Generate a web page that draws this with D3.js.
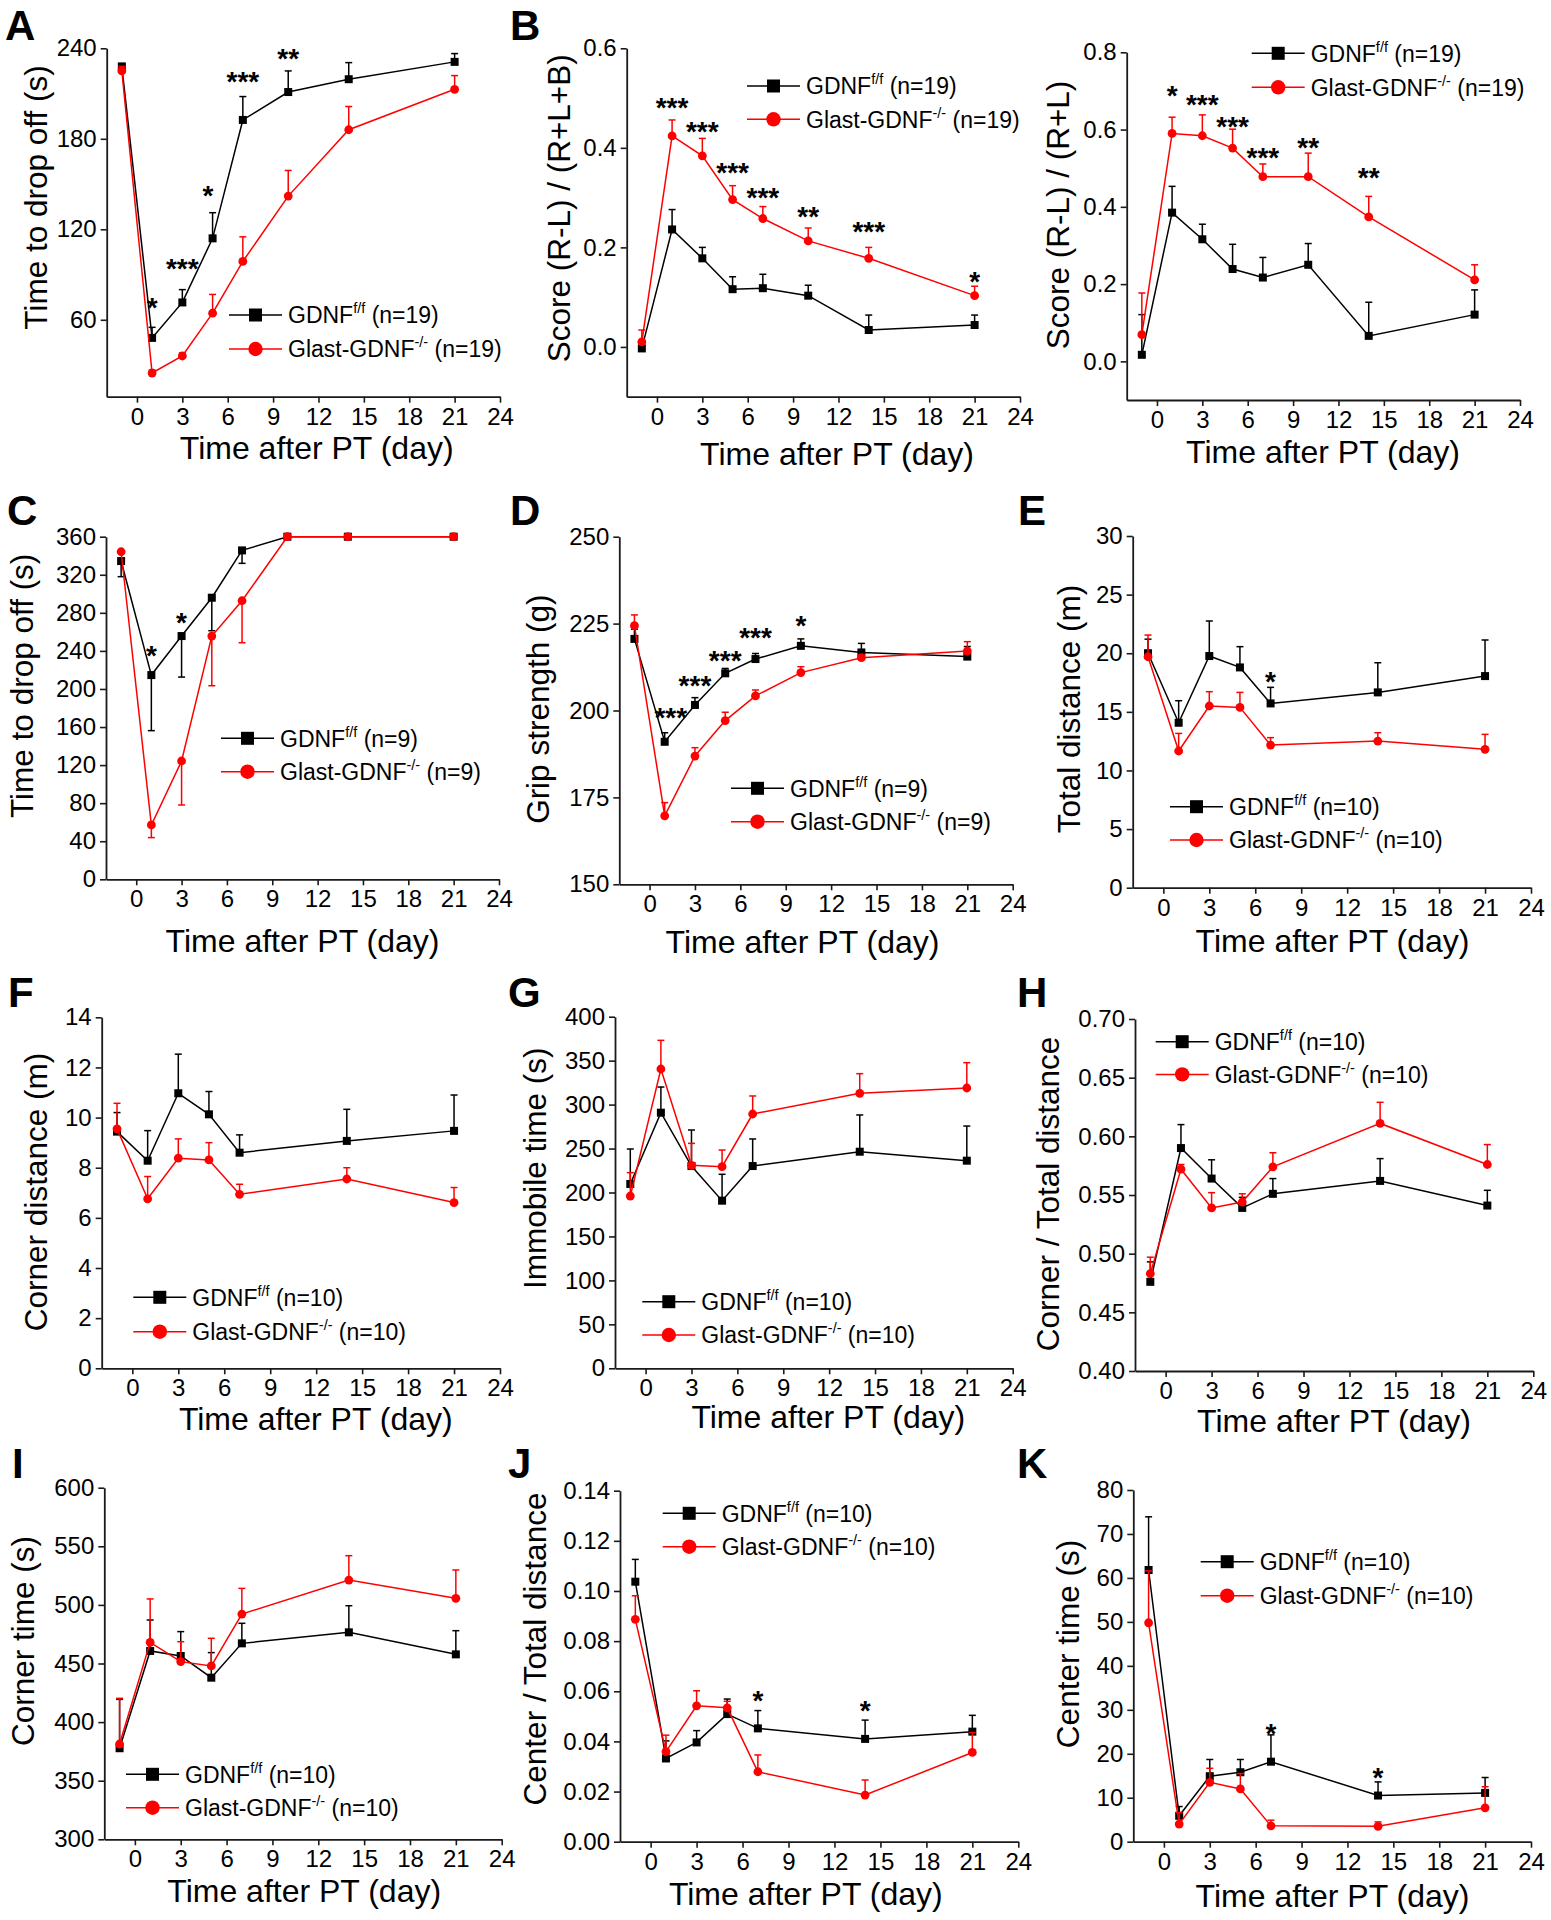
<!DOCTYPE html>
<html><head><meta charset="utf-8">
<script src="https://cdn.jsdelivr.net/npm/d3@7"></script>
<style>
body{margin:0;background:#fff}
svg{display:block}
text{font-family:"Liberation Sans",Arial,Helvetica,sans-serif;fill:#000}
</style>
</head><body>
<svg id="fig" width="1551" height="1920"></svg>
<script>
// ---------- shared ----------
const xTicks = [0,3,6,9,12,15,18,21,24];
const daysLong = [-1,1,3,5,7,10,14,21];
const daysShort = [-1,1,3,5,7,14,21];
const ctrlName = "GDNF";
const ctrlSup = "f/f";
const koName = "Glast-GDNF";
const koSup = "-/-";
const xTitle = "Time after PT (day)";

// ---------- A: time to drop off (n=19) ----------
const aCtrl = [228, 48, 71.5, 114, 192.5, 211, 219.5, 231];
const aCtrlErr = [1.5, 7, 8.5, 17, 15.5, 14, 11, 5.5];
const aKO = [225, 24.7, 36, 64.4, 98.7, 142, 186, 212.8];
const aKOErr = [3, 2, 2, 12.4, 16.3, 17, 15.4, 9.1];
const aStars = [[1,"*",73],[3,"***",99],[4.7,"*",147],[7,"***",223],[10,"**",238]];
const aYTicks = [60,120,180,240];

// ---------- B left: score (R-L)/(R+L+B) ----------
const b1Ctrl = [-0.003, 0.236, 0.178, 0.116, 0.118, 0.103, 0.034, 0.044];
const b1CtrlErr = [0.005, 0.04, 0.022, 0.025, 0.028, 0.021, 0.03, 0.02];
const b1KO = [0.01, 0.424, 0.384, 0.296, 0.258, 0.213, 0.178, 0.103];
const b1KOErr = [0.024, 0.032, 0.035, 0.028, 0.024, 0.026, 0.022, 0.019];
const b1Stars = [[1,"***",0.496],[3,"***",0.448],[5,"***",0.365],[7,"***",0.314],[10,"**",0.276],[14,"***",0.247],[21,"*",0.146]];
const b1YTicks = [0,0.2,0.4,0.6];

// ---------- B right: score (R-L)/(R+L) ----------
const b2Ctrl = [0.017, 0.385, 0.316, 0.239, 0.217, 0.25, 0.066, 0.121];
const b2CtrlErr = [0.104, 0.068, 0.039, 0.064, 0.052, 0.055, 0.087, 0.064];
const b2KO = [0.069, 0.59, 0.584, 0.552, 0.478, 0.478, 0.374, 0.211];
const b2KOErr = [0.108, 0.042, 0.054, 0.049, 0.033, 0.061, 0.053, 0.039];
const b2Stars = [[1,"*",0.707],[3,"***",0.684],[5,"***",0.627],[7,"***",0.546],[10,"**",0.572],[14,"**",0.496]];
const b2YTicks = [0,0.2,0.4,0.6,0.8];

// ---------- C: time to drop off (n=9), error bars downward ----------
const cCtrl = [334.4, 214.6, 255.6, 295.9, 345.6, 360, 360, 360];
const cCtrlErr = [16.4, 58.4, 43.1, 34.7, 13.6, 0, 0, 0];
const cKO = [344.2, 57.1, 124.3, 255.6, 292.7, 360, 360, 360];
const cKOErr = [0, 13.3, 46.2, 52.2, 44.1, 0, 0, 0];
const cStars = [[1,"*",243],[3,"*",277]];
const cYTicks = [0,40,80,120,160,200,240,280,320,360];

// ---------- D: grip strength ----------
const dCtrl = [220.6, 191.0, 201.6, 210.7, 214.8, 218.6, 216.7, 215.5];
const dCtrlErr = [2.8, 2.6, 2.1, 1.4, 1.6, 2.0, 2.6, 2.9];
const dKO = [224.4, 169.7, 186.9, 197.1, 204.2, 210.9, 215.2, 217.1];
const dKOErr = [3.1, 3.8, 2.4, 2.4, 1.7, 1.7, 0.8, 2.7];
const dStars = [[1.4,"***",200],[3,"***",209.4],[5,"***",216.4],[7,"***",223.2],[10,"*",226.5]];
const dYTicks = [150,175,200,225,250];

// ---------- E: total distance ----------
const eCtrl = [20.0, 14.07, 19.76, 18.79, 15.72, 16.66, 18.05];
const eCtrlErr = [1.2, 1.88, 2.99, 1.77, 1.37, 2.53, 3.08];
const eKO = [19.7, 11.66, 15.5, 15.38, 12.17, 12.51, 11.8];
const eKOErr = [1.85, 1.5, 1.22, 1.28, 0.63, 0.71, 1.28];
const eStars = [[7,"*",18.2]];
const eYTicks = [0,5,10,15,20,25,30];

// ---------- F: corner distance ----------
const fCtrl = [9.44, 8.28, 10.97, 10.13, 8.6, 9.07, 9.47];
const fCtrlErr = [0.76, 1.2, 1.56, 0.91, 0.71, 1.26, 1.43];
const fKO = [9.55, 6.76, 8.38, 8.31, 6.94, 7.55, 6.61];
const fKOErr = [1.02, 0.89, 0.77, 0.69, 0.4, 0.45, 0.6];
const fYTicks = [0,2,4,6,8,10,12,14];

// ---------- G: immobile time ----------
const gCtrl = [209.7, 290.8, 230.1, 190.7, 230.1, 246.4, 236.2];
const gCtrlErr = [39.8, 29.2, 41, 30, 30.8, 41.8, 39.4];
const gKO = [196, 340.5, 230.9, 229.4, 289.3, 312.8, 318.9];
const gKOErr = [26.6, 32.6, 25, 18.9, 20.5, 22.4, 28.8];
const gYTicks = [0,50,100,150,200,250,300,350,400];

// ---------- H: corner / total distance ----------
const hCtrl = [0.476, 0.590, 0.564, 0.539, 0.551, 0.562, 0.541];
const hCtrlErr = [0.017, 0.02, 0.016, 0.009, 0.013, 0.019, 0.013];
const hKO = [0.483, 0.572, 0.539, 0.544, 0.574, 0.611, 0.576];
const hKOErr = [0.014, 0.004, 0.013, 0.007, 0.012, 0.018, 0.017];
const hYTicks = [0.40,0.45,0.50,0.55,0.60,0.65,0.70];

// ---------- I: corner time ----------
const iCtrl = [377.7, 460.7, 456.4, 437.9, 467.2, 476.6, 457.8];
const iCtrlErr = [41.7, 26.4, 20.8, 21.4, 17.1, 22.7, 20.2];
const iKO = [381.3, 468.1, 451.6, 447.9, 492.2, 521.2, 505.6];
const iKOErr = [39, 37, 17, 23.6, 21.9, 20.8, 24.2];
const iYTicks = [300,350,400,450,500,550,600];

// ---------- J: center / total distance ----------
const jCtrl = [0.1037, 0.0332, 0.0396, 0.0509, 0.0452, 0.041, 0.0439];
const jCtrlErr = [0.0089, 0.007, 0.0047, 0.006, 0.0071, 0.0075, 0.0065];
const jKO = [0.0887, 0.0359, 0.0542, 0.0534, 0.0279, 0.0186, 0.0356];
const jKOErr = [0.0094, 0.0066, 0.006, 0.0026, 0.0067, 0.006, 0.0079];
const jStars = [[7,"*",0.0592],[14,"*",0.0552]];
const jYTicks = [0,0.02,0.04,0.06,0.08,0.10,0.12,0.14];

// ---------- K: center time ----------
const kCtrl = [61.8, 5.9, 14.9, 15.8, 18.2, 10.5, 11.1];
const kCtrlErr = [12.1, 2.1, 3.8, 2.9, 6.1, 3.1, 3.5];
const kKO = [49.8, 4.0, 13.5, 12.0, 3.6, 3.5, 7.7];
const kKOErr = [11.8, 2.6, 3.2, 3.5, 1.3, 1.0, 4.8];
const kStars = [[7,"*",26.3],[14,"*",16.3]];
const kYTicks = [0,10,20,30,40,50,60,70,80];

// ---------- layout (pixels) ----------
const panels = [
 {letter:"A", lx:5, ly:40, L:106.7,R:500,T:48.3,B:396.7, yDom:[9,240], yTicks:aYTicks, fmt:"d", days:daysLong, ctrl:aCtrl, ctrlErr:aCtrlErr, ko:aKO, koErr:aKOErr, dir:1, stars:aStars, yLabel:"Time to drop off (s)", ylx:46.7, yly:197.5, xtx:316.7, xty:459, legX:229, legY:315, legGap:34, n:19},
 {letter:"B", lx:510, ly:40, L:626.7,R:1020,T:48.3,B:396.7, yDom:[-0.1,0.6], yTicks:b1YTicks, fmt:".1f", days:daysLong, ctrl:b1Ctrl, ctrlErr:b1CtrlErr, ko:b1KO, koErr:b1KOErr, dir:1, stars:b1Stars, yLabel:"Score (R-L) / (R+L+B)", ylx:570, yly:208.3, xtx:837, xty:465, legX:747, legY:86, legGap:33.3, n:19},
 {letter:"", lx:0, ly:0, L:1126.7,R:1520,T:52.3,B:400, yDom:[-0.1,0.8], yTicks:b2YTicks, fmt:".1f", days:daysLong, ctrl:b2Ctrl, ctrlErr:b2CtrlErr, ko:b2KO, koErr:b2KOErr, dir:1, stars:b2Stars, yLabel:"Score (R-L) / (R+L)", ylx:1069.3, yly:215, xtx:1323, xty:463, legX:1251.7, legY:53.3, legGap:34, n:19},
 {letter:"C", lx:7, ly:525, L:106,R:499,T:536.7,B:879.3, yDom:[0,360], yTicks:cYTicks, fmt:"d", days:daysLong, ctrl:cCtrl, ctrlErr:cCtrlErr, ko:cKO, koErr:cKOErr, dir:-1, stars:cStars, yLabel:"Time to drop off (s)", ylx:33.3, yly:685.8, xtx:302.5, xty:951.7, legX:221, legY:738.3, legGap:33.4, n:9},
 {letter:"D", lx:510, ly:525, L:619.3,R:1012.7,T:536.7,B:884.3, yDom:[150,250], yTicks:dYTicks, fmt:"d", days:daysLong, ctrl:dCtrl, ctrlErr:dCtrlErr, ko:dKO, koErr:dKOErr, dir:1, stars:dStars, yLabel:"Grip strength (g)", ylx:549.3, yly:709.2, xtx:802.5, xty:953.3, legX:731, legY:788.3, legGap:33.4, n:9},
 {letter:"E", lx:1018, ly:525, L:1132.7,R:1531,T:536,B:887.7, yDom:[0,30], yTicks:eYTicks, fmt:"d", days:daysShort, ctrl:eCtrl, ctrlErr:eCtrlErr, ko:eKO, koErr:eKOErr, dir:1, stars:eStars, yLabel:"Total distance (m)", ylx:1080, yly:709, xtx:1332.5, xty:951.7, legX:1170, legY:806.7, legGap:33.3, n:10},
 {letter:"F", lx:8, ly:1007, L:101.7,R:500,T:1017.3,B:1368.3, yDom:[0,14], yTicks:fYTicks, fmt:"d", days:daysShort, ctrl:fCtrl, ctrlErr:fCtrlErr, ko:fKO, koErr:fKOErr, dir:1, stars:[], yLabel:"Corner distance (m)", ylx:46.7, yly:1192, xtx:315.8, xty:1430, legX:133.3, legY:1297.3, legGap:34.4, n:10},
 {letter:"G", lx:508, ly:1007, L:615,R:1012.7,T:1016.7,B:1368.3, yDom:[0,400], yTicks:gYTicks, fmt:"d", days:daysShort, ctrl:gCtrl, ctrlErr:gCtrlErr, ko:gKO, koErr:gKOErr, dir:1, stars:[], yLabel:"Immobile time (s)", ylx:546, yly:1168.3, xtx:828.3, xty:1428.3, legX:642.3, legY:1301.7, legGap:33.3, n:10},
 {letter:"H", lx:1017, ly:1007, L:1135,R:1533.3,T:1019,B:1371, yDom:[0.4,0.7], yTicks:hYTicks, fmt:".2f", days:daysShort, ctrl:hCtrl, ctrlErr:hCtrlErr, ko:hKO, koErr:hKOErr, dir:1, stars:[], yLabel:"Corner / Total distance", ylx:1059.3, yly:1194, xtx:1334, xty:1431.7, legX:1155.7, legY:1041.7, legGap:32.7, n:10},
 {letter:"I", lx:12, ly:1478, L:104.3,R:501.7,T:1487.7,B:1839.3, yDom:[300,600], yTicks:iYTicks, fmt:"d", days:daysShort, ctrl:iCtrl, ctrlErr:iCtrlErr, ko:iKO, koErr:iKOErr, dir:1, stars:[], yLabel:"Corner time (s)", ylx:34.3, yly:1641, xtx:304.2, xty:1901.7, legX:126, legY:1774.3, legGap:33.4, n:10},
 {letter:"J", lx:508, ly:1478, L:620,R:1018.3,T:1490.7,B:1841.7, yDom:[0,0.14], yTicks:jYTicks, fmt:".2f", days:daysShort, ctrl:jCtrl, ctrlErr:jCtrlErr, ko:jKO, koErr:jKOErr, dir:1, stars:jStars, yLabel:"Center / Total distance", ylx:546, yly:1649, xtx:805.8, xty:1905, legX:662.7, legY:1513.3, legGap:33.4, n:10},
 {letter:"K", lx:1017, ly:1478, L:1133.3,R:1531,T:1490,B:1841.7, yDom:[0,80], yTicks:kYTicks, fmt:"d", days:daysShort, ctrl:kCtrl, ctrlErr:kCtrlErr, ko:kKO, koErr:kKOErr, dir:1, stars:kStars, yLabel:"Center time (s)", ylx:1079.3, yly:1644, xtx:1332.5, xty:1906.7, legX:1200.7, legY:1561.7, legGap:34, n:10}
];

const RED = "#ff0000", BLK = "#000000";
const svg = d3.select("#fig");
svg.append("rect").attr("width",1551).attr("height",1920).attr("fill","#fff");

function drawPanel(p){
  const g = svg.append("g");
  const x = d3.scaleLinear().domain([-2,24]).range([p.L,p.R]);
  const y = d3.scaleLinear().domain(p.yDom).range([p.B,p.T]);

  // axes
  const xa = g.append("g").attr("transform",`translate(0,${p.B})`)
    .call(d3.axisBottom(x).tickValues(xTicks).tickSize(6).tickSizeOuter(0).tickPadding(5).tickFormat(d3.format("d")));
  const ya = g.append("g").attr("transform",`translate(${p.L},0)`)
    .call(d3.axisLeft(y).tickValues(p.yTicks).tickSize(6).tickSizeOuter(0).tickPadding(4).tickFormat(d3.format(p.fmt)));
  [xa,ya].forEach(a=>{
    a.select(".domain").attr("stroke","#1a1a1a").attr("stroke-width",1.8);
    a.selectAll(".tick line").attr("stroke","#1a1a1a").attr("stroke-width",1.6);
    a.selectAll(".tick text").attr("font-size",24).attr("fill","#000")
      .style("font-family",'"Liberation Sans",Arial,sans-serif');
  });

  // axis titles
  g.append("text").attr("x",p.xtx).attr("y",p.xty).attr("text-anchor","middle")
    .attr("font-size",32).text(xTitle);
  g.append("text").attr("transform",`translate(${p.ylx},${p.yly}) rotate(-90)`)
    .attr("text-anchor","middle").attr("font-size",31.5).text(p.yLabel);

  // panel letter
  if(p.letter){
    g.append("text").attr("x",p.lx).attr("y",p.ly).attr("font-size",42)
      .attr("font-weight","bold").text(p.letter);
  }

  const series = [
    {vals:p.ctrl, err:p.ctrlErr, color:BLK, shape:"square"},
    {vals:p.ko, err:p.koErr, color:RED, shape:"circle"}
  ];
  const line = d3.line().x(d=>x(d[0])).y(d=>y(d[1]));

  series.forEach(s=>{
    const pts = p.days.map((d,i)=>[d, s.vals[i], s.err[i]]);
    const sg = g.append("g");
    // error bars
    pts.forEach(d=>{
      if(!d[2]) return;
      const y0 = y(d[1]), y1 = y(d[1] + p.dir*d[2]);
      sg.append("line").attr("x1",x(d[0])).attr("x2",x(d[0])).attr("y1",y0).attr("y2",y1)
        .attr("stroke",s.color).attr("stroke-width",1.5);
      sg.append("line").attr("x1",x(d[0])-3.5).attr("x2",x(d[0])+3.5).attr("y1",y1).attr("y2",y1)
        .attr("stroke",s.color).attr("stroke-width",1.5);
    });
    sg.append("path").datum(pts).attr("d",line).attr("fill","none")
      .attr("stroke",s.color).attr("stroke-width",1.5);
    pts.forEach(d=>{
      if(s.shape==="square"){
        sg.append("rect").attr("x",x(d[0])-4).attr("y",y(d[1])-4).attr("width",8).attr("height",8)
          .attr("fill",s.color);
      } else {
        sg.append("circle").attr("cx",x(d[0])).attr("cy",y(d[1])).attr("r",4.4).attr("fill",s.color);
      }
    });
  });

  // significance stars
  p.stars.forEach(st=>{
    g.append("text").attr("x",x(st[0])).attr("y",y(st[2])).attr("dy","0.6em")
      .attr("text-anchor","middle").attr("font-size",28).attr("font-weight","bold").text(st[1]);
  });

  // legend
  const rows = [
    {name:ctrlName, sup:ctrlSup, color:BLK, shape:"square", gap:" (n="},
    {name:koName, sup:koSup, color:RED, shape:"circle", gap:" (n="}
  ];
  rows.forEach((r,i)=>{
    const ry = p.legY + i*p.legGap;
    g.append("line").attr("x1",p.legX).attr("x2",p.legX+53).attr("y1",ry).attr("y2",ry)
      .attr("stroke",r.color).attr("stroke-width",1.5);
    const mx = p.legX+26.5;
    if(r.shape==="square"){
      g.append("rect").attr("x",mx-6.5).attr("y",ry-6.5).attr("width",13).attr("height",13).attr("fill",r.color);
    } else {
      g.append("circle").attr("cx",mx).attr("cy",ry).attr("r",7.2).attr("fill",r.color);
    }
    const t = g.append("text").attr("x",p.legX+59).attr("y",ry).attr("dy","0.36em").attr("font-size",23);
    t.append("tspan").text(r.name);
    t.append("tspan").attr("font-size",14.5).attr("dy",-10).text(r.sup);
    t.append("tspan").attr("dy",10).text(r.gap + p.n + ")");
  });
}

panels.forEach(drawPanel);
</script>
</body></html>
